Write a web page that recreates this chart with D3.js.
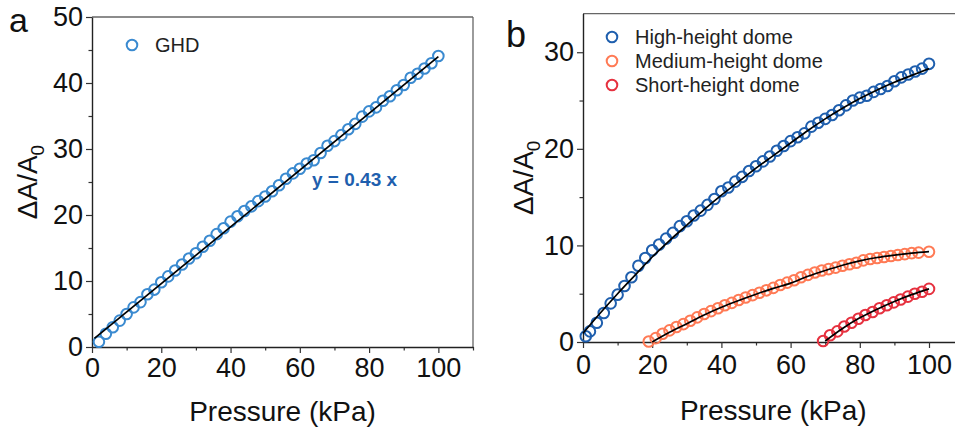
<!DOCTYPE html>
<html>
<head>
<meta charset="utf-8">
<script src="https://cdn.jsdelivr.net/npm/d3@7/dist/d3.min.js"></script>
<style>
  html, body { margin: 0; padding: 0; background: #fff; }
  svg { display: block; font-family: "Liberation Sans", Arial, Helvetica, sans-serif; }
</style>
</head>
<body>
<svg id="chart" width="955" height="432"></svg>
<script>
// ---------- Panel a: GHD sensor ----------
const ghdX = [2,4,6,8,10,12,14,16,18,20,22,24,26,28,30,32,34,36,38,40,42,44,46,48,50,
              52,54,56,58,60,62,64,66,68,70,72,74,76,78,80,82,84,86,88,90,92,94,96,98,100];
const ghdY = [0.8,2.0,3.0,4.0,5.0,6.0,6.8,8.0,8.7,9.8,10.7,11.6,12.5,13.4,14.2,15.2,16.1,17.1,18.0,19.0,19.8,20.6,21.3,22.1,22.8,
              23.6,24.5,25.5,26.3,27.0,27.8,28.3,29.4,30.5,31.2,32.1,33.0,33.8,34.9,35.7,36.3,37.3,38.0,38.9,39.7,40.8,41.4,42.2,43.0,44.1];
const ghdSlope = 0.43;
const ghdIntercept = 1.0;
const ghdFitRange = [0.7, 100];
const ghdLabel = "y = 0.43 x";

// ---------- Panel b: three dome heights ----------
const domeNames = ["High-height dome", "Medium-height dome", "Short-height dome"];

const highX = [0.8,2,4,6,8,10,12,14,16,18,20,22,24,26,28,30,32,34,36,38,40,42,44,46,48,50,
               52,54,56,58,60,62,64,66,68,70,72,74,76,78,80,82,84,86,88,90,92,94,96,98,100];
const highY = [0.6,1.1,2.0,3.0,4.0,4.9,5.8,6.7,7.9,8.7,9.5,10.1,10.7,11.3,12.0,12.5,13.1,13.6,14.2,14.8,15.6,16.0,16.6,17.1,17.7,18.2,
               18.7,19.2,19.8,20.3,20.8,21.2,21.6,22.3,22.7,23.1,23.5,24.0,24.5,25.0,25.3,25.5,25.9,26.2,26.5,27.0,27.4,27.7,28.0,28.3,28.8];
const highFitX = [0,5,10,15,20,25,30,35,40,45,50,55,60,65,70,75,80,85,90,95,100];
const highFitY = [0.9,3.0,5.0,6.9,8.8,10.5,12.1,13.7,15.2,16.6,18.0,19.3,20.6,21.9,23.1,24.2,25.2,26.1,26.9,27.6,28.3];

const medX = [19,21,23,25,27,29,31,33,35,37,39,41,43,45,47,49,51,53,55,57,59,
              61,63,65,67,69,71,73,75,77,79,81,83,85,87,89,91,93,95,97,100];
const medY = [0.05,0.4,0.85,1.2,1.55,1.85,2.2,2.55,2.9,3.2,3.5,3.8,4.05,4.35,4.6,4.85,5.1,5.35,5.6,5.9,6.15,
              6.4,6.7,6.95,7.2,7.4,7.55,7.7,7.9,8.05,8.2,8.45,8.6,8.7,8.8,8.9,9.0,9.1,9.2,9.25,9.35];
const medFitX = [20,25,30,35,40,45,50,55,60,65,70,75,80,85,90,95,100];
const medFitY = [0.0,1.0,1.9,2.8,3.6,4.3,4.95,5.55,6.1,6.8,7.4,7.95,8.4,8.75,9.0,9.2,9.35];

const shortX = [69.4,71.4,73.5,75.5,77.6,79.6,81.6,83.7,85.7,87.8,89.8,91.8,93.9,95.9,98,100];
const shortY = [0.1,0.7,1.1,1.6,2.0,2.4,2.8,3.1,3.5,3.8,4.1,4.4,4.7,5.0,5.2,5.5];
const shortFitX = [70,75,80,85,90,95,100];
const shortFitY = [0.1,1.4,2.5,3.4,4.2,4.9,5.5];

// tick values
const xMajor = [0,20,40,60,80,100];
const xMinor = [10,30,50,70,90,110];
const yMajorA = [0,10,20,30,40,50];
const yMinorA = [5,15,25,35,45];
const yMajorB = [0,10,20,30];
const yMinorB = [5,15,25];

const colors = { ghd: "#3a8ad0", high: "#1f5fae", med: "#ff7a55", short: "#e6313f", label: "#1f5fae" };

const svg = d3.select("#chart");
const zip = (xs, ys) => xs.map((x, i) => [x, ys[i]]);
const R = 5.3;

function drawPanel(opts) {
  const g = svg.append("g");
  const x = d3.scaleLinear().domain(opts.xDomain).range([opts.left, opts.right]);
  const y = d3.scaleLinear().domain(opts.yDomain).range([opts.bottom, opts.top]);

  // gray frame (top and right)
  g.append("line").attr("x1", opts.left).attr("x2", opts.right).attr("y1", opts.top).attr("y2", opts.top)
    .attr("stroke", "#666").attr("stroke-width", 1.3);
  g.append("line").attr("x1", opts.right).attr("x2", opts.right).attr("y1", opts.top).attr("y2", opts.bottom)
    .attr("stroke", "#666").attr("stroke-width", 1.3);

  // minor ticks
  const xMinorAxis = d3.axisBottom(x).tickValues(opts.xMinor).tickSize(3.5).tickFormat("");
  g.append("g").attr("transform", `translate(0,${opts.bottom})`).call(xMinorAxis)
    .call(s => s.select(".domain").remove());
  const yMinorAxis = d3.axisLeft(y).tickValues(opts.yMinor).tickSize(3.5).tickFormat("");
  g.append("g").attr("transform", `translate(${opts.left},0)`).call(yMinorAxis)
    .call(s => s.select(".domain").remove());

  // major axes
  const xAxis = d3.axisBottom(x).tickValues(opts.xMajor).tickSize(6).tickPadding(opts.xPad).tickSizeOuter(0);
  const gx = g.append("g").attr("transform", `translate(0,${opts.bottom})`).call(xAxis);
  const yAxis = d3.axisLeft(y).tickValues(opts.yMajor).tickSize(6).tickPadding(3).tickSizeOuter(0);
  const gy = g.append("g").attr("transform", `translate(${opts.left},0)`).call(yAxis);

  g.selectAll(".tick line").attr("stroke", "#333").attr("stroke-width", 1.2);
  g.selectAll(".domain").attr("stroke", "#222").attr("stroke-width", 1.4);
  gx.selectAll("text").attr("font-size", 27).attr("fill", "#111").style("font-family", "inherit");
  gy.selectAll("text").attr("font-size", 27).attr("fill", "#111").style("font-family", "inherit");

  // axis titles
  g.append("text").attr("x", (opts.left + opts.right) / 2).attr("y", opts.xTitleY)
    .attr("text-anchor", "middle").attr("font-size", 28).attr("fill", "#111").text("Pressure (kPa)");

  const yt = g.append("text")
    .attr("transform", `translate(${opts.yTitleX},${(opts.top + opts.bottom) / 2}) rotate(-90)`)
    .attr("text-anchor", "middle").attr("font-size", 28).attr("fill", "#111");
  yt.append("tspan").text("\u0394A/A");
  yt.append("tspan").attr("font-size", 19).attr("dy", 7).text("0");

  // panel letter
  g.append("text").attr("x", opts.letterX).attr("y", opts.letterY)
    .attr("font-size", opts.letterSize).attr("fill", "#111").text(opts.letter);

  return { g, x, y };
}

function drawPoints(p, pts, color) {
  p.g.append("g").selectAll("circle").data(pts).join("circle")
    .attr("cx", d => p.x(d[0])).attr("cy", d => p.y(d[1])).attr("r", R)
    .attr("fill", "none").attr("stroke", color).attr("stroke-width", 2);
}

function drawFit(p, pts) {
  const line = d3.line().x(d => p.x(d[0])).y(d => p.y(d[1])).curve(d3.curveMonotoneX);
  p.g.append("path").datum(pts).attr("d", line)
    .attr("fill", "none").attr("stroke", "#000").attr("stroke-width", 1.7);
}

function drawLegend(p, items, x0, y0, dy, fontSize) {
  items.forEach((it, i) => {
    p.g.append("circle").attr("cx", x0).attr("cy", y0 + i * dy).attr("r", R)
      .attr("fill", "none").attr("stroke", it.color).attr("stroke-width", 2);
    p.g.append("text").attr("x", x0 + 23).attr("y", y0 + i * dy + fontSize * 0.36)
      .attr("font-size", fontSize).attr("fill", "#222").text(it.name);
  });
}

// ---------- Panel a ----------
const pa = drawPanel({
  left: 92, right: 473, top: 17, bottom: 347,
  xDomain: [0, 110], yDomain: [0, 50],
  xMajor, xMinor, yMajor: yMajorA, yMinor: yMinorA, xPad: 5,
  xTitleY: 421, yTitleX: 37, letter: "a", letterX: 9, letterY: 32, letterSize: 34
});
drawPoints(pa, zip(ghdX, ghdY), colors.ghd);
drawFit(pa, ghdFitRange.map(v => [v, ghdSlope * v + ghdIntercept]));
pa.g.append("text").attr("x", 312).attr("y", 186).attr("font-size", 19).attr("font-weight", "bold")
  .attr("fill", colors.label).text(ghdLabel);
drawLegend(pa, [{ name: "GHD", color: colors.ghd }], 132, 45, 0, 20);

// ---------- Panel b ----------
const pb = drawPanel({
  left: 583, right: 963.6, top: 13.6, bottom: 342,
  xDomain: [0, 110], yDomain: [0, 34],
  xMajor, xMinor, yMajor: yMajorB, yMinor: yMinorB, xPad: 7,
  xTitleY: 420, yTitleX: 533, letter: "b", letterX: 506, letterY: 47, letterSize: 36
});
drawPoints(pb, zip(highX, highY), colors.high);
drawPoints(pb, zip(medX, medY), colors.med);
drawPoints(pb, zip(shortX, shortY), colors.short);
drawFit(pb, zip(highFitX, highFitY));
drawFit(pb, zip(medFitX, medFitY));
drawFit(pb, zip(shortFitX, shortFitY));
drawLegend(pb, [
  { name: domeNames[0], color: colors.high },
  { name: domeNames[1], color: colors.med },
  { name: domeNames[2], color: colors.short }
], 612, 37, 24, 20);
</script>
</body>
</html>
